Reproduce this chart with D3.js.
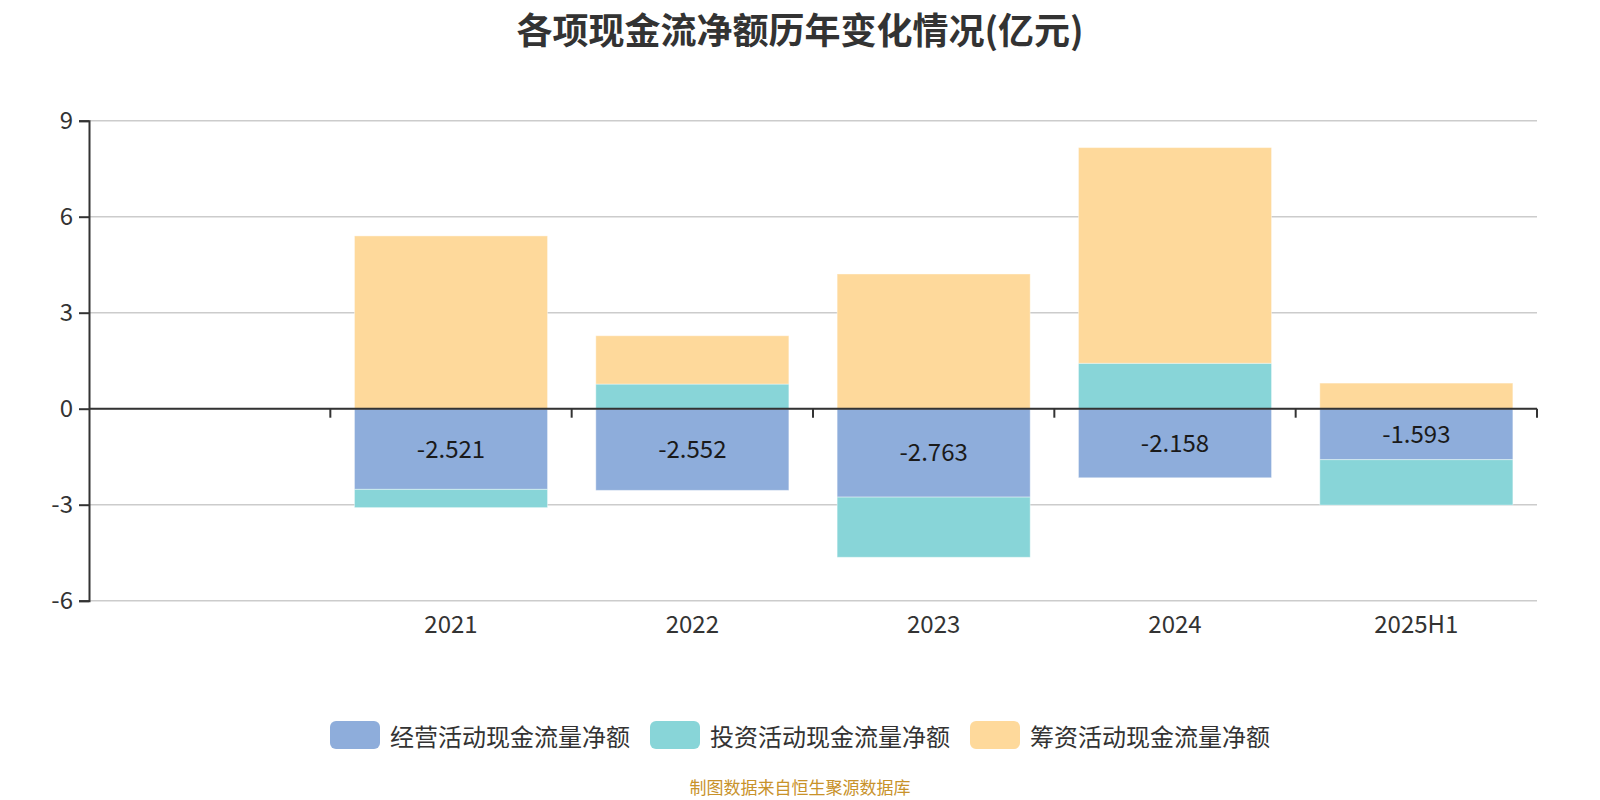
<!DOCTYPE html>
<html>
<head>
<meta charset="utf-8">
<script src="https://cdn.jsdelivr.net/npm/d3@7"></script>
<style>
  body { margin: 0; background: #fff; }
  svg { font-family: "Noto Sans CJK SC", "Noto Sans", sans-serif; }
</style>
</head>
<body>
<svg id="chart" width="1600" height="800"></svg>
<script>
// data (亿元)
var categories = ["", "2021", "2022", "2023", "2024", "2025H1"];
var operating = [0, -2.521, -2.552, -2.763, -2.158, -1.593];
var investing = [0, -0.57, 0.77, -1.88, 1.42, -1.42];
var financing = [0, 5.40, 1.51, 4.21, 6.74, 0.80];
var seriesNames = ["经营活动现金流量净额", "投资活动现金流量净额", "筹资活动现金流量净额"];
var yTicks = [-6, -3, 0, 3, 6, 9];

var colors = ["#8eaddb", "#88d5d8", "#fed99b"];

var svg = d3.select("#chart");
var margin = {left: 89, right: 63, top: 120.7, bottom: 199.3};
var width = 1600 - margin.left - margin.right,
    height = 800 - margin.top - margin.bottom;

var g = svg.append("g")
    .attr("transform", "translate(" + margin.left + "," + margin.top + ")");

// build rows for the stack
var rows = categories.map(function(c, i) {
    return {cat: c, op: operating[i], inv: investing[i], fin: financing[i]};
});
var keys = ["op", "inv", "fin"];
var stacked = d3.stack()
    .keys(keys)
    .offset(d3.stackOffsetDiverging)(rows);

var x = d3.scaleBand()
    .domain(categories)
    .range([0, width])
    .paddingInner(0.2)
    .paddingOuter(0.1);

var y = d3.scaleLinear()
    .domain([-6, 9])
    .range([height, 0]);

// grid lines
g.append("g")
    .selectAll("line")
    .data(yTicks)
    .enter()
    .append("line")
    .attr("x1", 0)
    .attr("x2", width)
    .attr("y1", (d) => y(d))
    .attr("y2", (d) => y(d))
    .attr("stroke", "#cccccc")
    .attr("stroke-width", 1.5);

// bars
g.append("g")
    .selectAll("g")
    .data(stacked)
    .enter()
    .append("g")
    .attr("fill", (d, i) => colors[i])
    .selectAll("rect")
    .data((d) => d.filter((p) => p[1] !== p[0]))
    .enter()
    .append("rect")
    .attr("x", (d) => x(d.data.cat))
    .attr("width", x.bandwidth())
    .attr("y", (d) => y(Math.max(d[0], d[1])))
    .attr("height", (d) => Math.abs(y(d[0]) - y(d[1])))
    .attr("stroke", "rgba(255,255,255,0.4)")
    .attr("stroke-width", 1);

// value labels on the operating series
g.append("g")
    .selectAll("text")
    .data(stacked[0].filter((p) => p[1] !== p[0]))
    .enter()
    .append("text")
    .attr("x", (d) => x(d.data.cat) + x.bandwidth() / 2)
    .attr("y", (d) => (y(d[0]) + y(d[1])) / 2 - 2)
    .attr("text-anchor", "middle")
    .attr("dominant-baseline", "central")
    .style("font-size", "24px")
    .style("fill", "#1a1a1a")
    .text((d) => d.data.op.toFixed(3));

// y axis
var yAxis = g.append("g")
    .call(d3.axisLeft(y).tickValues(yTicks).tickSize(10).tickPadding(6)
        .tickFormat((d) => String(d)));
yAxis.select(".domain").attr("stroke", "#333").attr("stroke-width", 2);
yAxis.selectAll(".tick line").attr("stroke", "#333").attr("stroke-width", 2);
yAxis.selectAll(".tick text").style("font-size", "24px").style("fill", "#333")
    .style("font-family", "Noto Sans CJK SC");

// x axis on zero line
var xTickPos = d3.range(1, categories.length + 1).map((i) => i * width / categories.length);
var xAxis = g.append("g")
    .attr("transform", "translate(0," + y(0) + ")");
xAxis.append("line")
    .attr("x1", 0).attr("x2", width)
    .attr("stroke", "#333").attr("stroke-width", 2);
xAxis.selectAll(".tk")
    .data(xTickPos)
    .enter()
    .append("line")
    .attr("x1", (d) => d).attr("x2", (d) => d)
    .attr("y1", 0).attr("y2", 9)
    .attr("stroke", "#333").attr("stroke-width", 2);

// x labels at bottom
g.append("g")
    .selectAll("text")
    .data(categories)
    .enter()
    .append("text")
    .attr("x", (d) => x(d) + x.bandwidth() / 2)
    .attr("y", height + 22)
    .attr("text-anchor", "middle")
    .attr("dominant-baseline", "central")
    .style("font-size", "24px")
    .style("fill", "#333")
    .text((d) => d);

// title
svg.append("text")
    .attr("x", 800)
    .attr("y", 28)
    .attr("text-anchor", "middle")
    .attr("dominant-baseline", "central")
    .style("font-size", "36px")
    .style("font-weight", "bold")
    .style("fill", "#333")
    .text("各项现金流净额历年变化情况(亿元)");

// legend
var legend = svg.append("g")
    .selectAll("g")
    .data(seriesNames)
    .enter()
    .append("g")
    .attr("transform", (d, i) => "translate(" + (330 + i * 320) + ",735)");
legend.append("rect")
    .attr("x", 0).attr("y", -14)
    .attr("width", 50).attr("height", 28)
    .attr("rx", 6)
    .attr("fill", (d, i) => colors[i]);
legend.append("text")
    .attr("x", 60).attr("y", 0)
    .attr("dominant-baseline", "central")
    .style("font-size", "24px")
    .style("fill", "#333")
    .text((d) => d);

// footer
svg.append("text")
    .attr("x", 800)
    .attr("y", 786)
    .attr("text-anchor", "middle")
    .attr("dominant-baseline", "central")
    .style("font-size", "17px")
    .style("fill", "#c8922a")
    .text("制图数据来自恒生聚源数据库");
</script>
</body>
</html>
